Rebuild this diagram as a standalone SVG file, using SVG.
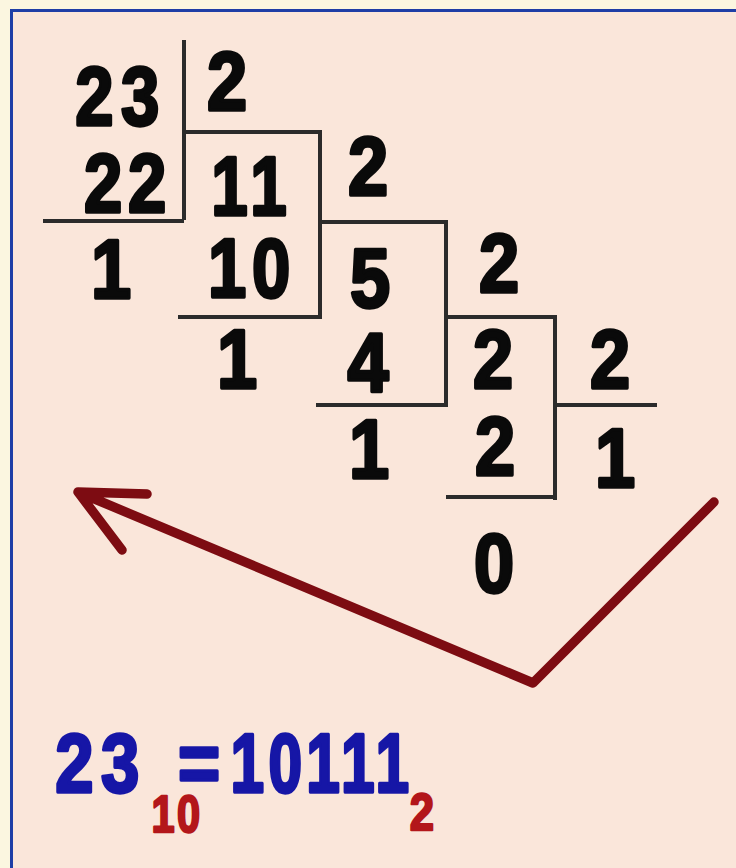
<svg xmlns="http://www.w3.org/2000/svg" width="736" height="868" viewBox="0 0 736 868">
<style>
.d{font-family:"Liberation Sans",Arial,sans-serif;font-weight:bold;font-size:84px;fill:#0a0a0a;stroke:#0a0a0a;stroke-width:3.4;stroke-linejoin:round;text-anchor:middle}
.b{fill:#1616a6;stroke:#1616a6}
.r{fill:#b3161a;stroke:#b3161a;font-size:52px;stroke-width:2.4}
.ln{fill:none;stroke:#2b2b2b;stroke-width:4;stroke-linecap:square}
.arrow{fill:none;stroke:#7d0c12;stroke-width:9.5;stroke-linecap:round;stroke-linejoin:round}
</style>
<rect width="736" height="868" fill="#fbf6e0"/>
<rect x="11.5" y="10.5" width="740" height="870" fill="#fae6da" stroke="#1e3ea6" stroke-width="3"/>
<g id="lines">
<path class="ln" d="M184 42V218M45 221H182M184 132H320V317M180 317H320"/>
<path class="ln" d="M320 222H446V405M318 405H446"/>
<path class="ln" d="M446 317H555V498M448 497H555M555 405H655"/>
</g>
<g id="step1">
<text class="d" transform="translate(121,125) scale(0.82,1)" letter-spacing="9">23</text>
<text class="d" transform="translate(227,110) scale(0.86,1)">2</text>
<text class="d" transform="translate(128,212) scale(0.82,1)" letter-spacing="7">22</text>
<text class="d" transform="translate(111,298) scale(0.86,1)">1</text>
</g>
<g id="step2">
<text class="d" transform="translate(252,215) scale(0.78,1)" letter-spacing="8">11</text>
<text class="d" transform="translate(368,195) scale(0.86,1)">2</text>
<text class="d" transform="translate(252,297) scale(0.82,1)" letter-spacing="7">10</text>
<text class="d" transform="translate(237,388) scale(0.86,1)">1</text>
</g>
<g id="step3">
<text class="d" transform="translate(370,307) scale(0.86,1)">5</text>
<text class="d" transform="translate(499,292) scale(0.86,1)">2</text>
<text class="d" transform="translate(368,392) scale(0.88,1)">4</text>
<text class="d" transform="translate(369,478) scale(0.86,1)">1</text>
</g>
<g id="step4">
<text class="d" transform="translate(493,388) scale(0.86,1)">2</text>
<text class="d" transform="translate(610,388) scale(0.86,1)">2</text>
<text class="d" transform="translate(495,475) scale(0.86,1)">2</text>
<text class="d" transform="translate(494,592) scale(0.86,1)">0</text>
</g>
<g id="step5">
<text class="d" transform="translate(615,487) scale(0.86,1)">1</text>
</g>
<g id="connectors">
<path class="arrow" d="M714 502L533 683L78 492M147 494L78 492L122 550"/>
</g>
<g id="result">
<text class="d b" transform="translate(101,792) scale(0.82,1)" letter-spacing="9">23</text>
<text class="d r" transform="translate(177,832) scale(0.8,1)" letter-spacing="3">10</text>
<text class="d b" transform="translate(199,792) scale(0.86,1)">=</text>
<text class="d b" transform="translate(322,792) scale(0.72,1)" letter-spacing="6">10111</text>
<text class="d r" transform="translate(422,830) scale(0.84,1)">2</text>
</g>
</svg>
